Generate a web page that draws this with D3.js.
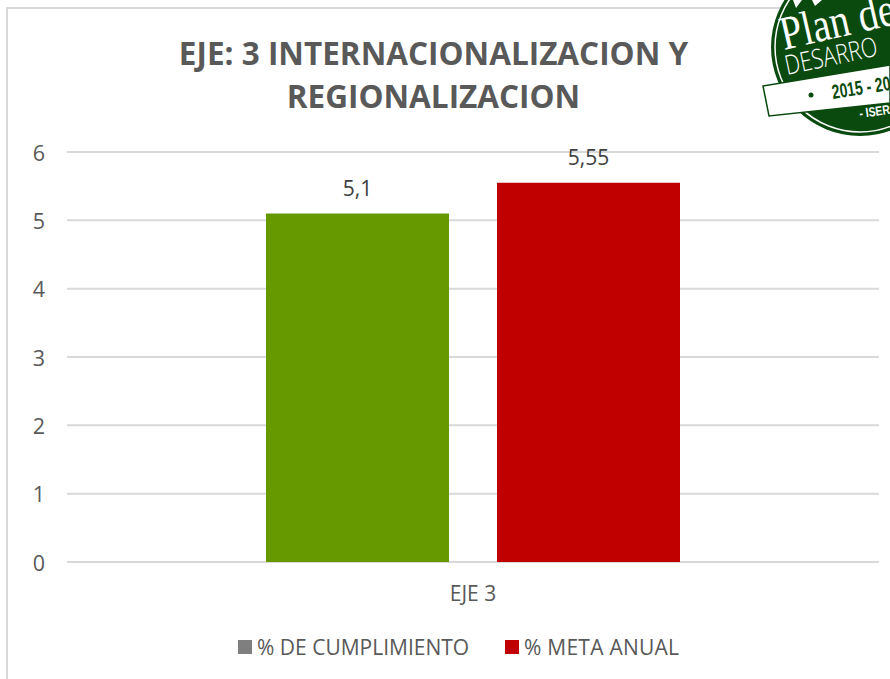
<!DOCTYPE html>
<html><head><meta charset="utf-8">
<script src="https://cdnjs.cloudflare.com/ajax/libs/d3/7.8.5/d3.min.js"></script>
<style>html,body{margin:0;padding:0;background:#fff}svg{display:block}text{font-family:"Open Sans",sans-serif}</style>
</head><body><svg id="c" width="890" height="679"></svg>
<script>
const categories = ["EJE 3"];
const seriesNames = ["% DE CUMPLIMIENTO", "% META ANUAL"];
const barValues = [5.1, 5.55];
const valueLabels = ["5,1", "5,55"];
const barColors = ["#669900", "#C00000"];
const legendColors = ["#7F7F7F", "#C00000"];
const yTicks = [0, 1, 2, 3, 4, 5, 6];
const titleLines = ["EJE: 3 INTERNACIONALIZACION Y", "REGIONALIZACION"];

const svg = d3.select("#c");
const W = 890, H = 679;
const L = 67, R = 879, T = 152, B = 562;
svg.append("rect").attr("x",7).attr("y",8).attr("width",W).attr("height",H).attr("fill","#fff").attr("stroke","#D9D9D9").attr("stroke-width",2);

const y = d3.scaleLinear().domain([0,6]).range([B,T]);
const x0 = d3.scaleBand().domain(categories).range([L,R]);
const x1 = d3.scaleBand().domain(seriesNames).range([266,680]).paddingInner(48/231);

svg.append("g").selectAll("line").data(yTicks).join("line")
  .attr("x1",L).attr("x2",R).attr("y1",d=>y(d)).attr("y2",d=>y(d))
  .attr("stroke","#D9D9D9").attr("stroke-width",2);
svg.append("g").selectAll("text").data(yTicks).join("text")
  .attr("x",45).attr("y",d=>y(d)+8.5).attr("text-anchor","end")
  .attr("font-size",21.5).attr("fill","#595959").text(d=>d);

svg.append("g").selectAll("rect").data(barValues).join("rect")
  .attr("x",(d,i)=>x1(seriesNames[i])).attr("width",x1.bandwidth())
  .attr("y",d=>y(d)).attr("height",d=>B-y(d)).attr("fill",(d,i)=>barColors[i]);
svg.append("g").selectAll("text").data(barValues).join("text")
  .attr("x",(d,i)=>x1(seriesNames[i])+x1.bandwidth()/2).attr("y",d=>y(d)-18)
  .attr("text-anchor","middle").attr("font-size",21).attr("fill","#404040")
  .text((d,i)=>valueLabels[i]);

svg.append("text").attr("x",x0(categories[0])+x0.bandwidth()/2).attr("y",601)
  .attr("text-anchor","middle").attr("font-size",21).attr("fill","#595959").text(categories[0]);

svg.append("g").selectAll("text").data(titleLines).join("text")
  .attr("x",433.5).attr("y",(d,i)=>65+i*43).attr("text-anchor","middle")
  .attr("font-size",31.5).attr("font-weight",700).attr("fill","#595959").text(d=>d);

const legendX = [238,505];
const legendSpacing = [0,0.25];
const lg = svg.append("g").selectAll("g").data(seriesNames).join("g");
lg.append("rect").attr("x",(d,i)=>legendX[i]).attr("y",640).attr("width",14).attr("height",14).attr("fill",(d,i)=>legendColors[i]);
lg.append("text").attr("x",(d,i)=>legendX[i]+19).attr("y",654.5).attr("font-size",21).attr("fill","#595959")
  .attr("letter-spacing",(d,i)=>legendSpacing[i]).text(d=>d);

// logo stamp (cut by the window, as in the reference)
const green = "#0B4A0F";
const logo = svg.append("g");
logo.append("circle").attr("cx",860).attr("cy",47).attr("r",89).attr("fill",green);
logo.append("circle").attr("cx",860).attr("cy",47).attr("r",85).attr("fill","none").attr("stroke","#fff").attr("stroke-width",1.5);
logo.append("polygon").attr("points","793,0 802,0 796,8").attr("fill","#fff");
logo.append("polygon").attr("points","812,0 822,0 815,6").attr("fill","#fff");
logo.append("text").attr("transform","translate(784,50) rotate(-13) scale(0.82,1)")
  .style("font-family","Liberation Serif").attr("font-size",48).attr("fill","#fff").text("Plan de");
logo.append("text").attr("transform","translate(787,75) rotate(-12) scale(0.8,1)")
  .style("font-family","Open Sans").attr("font-weight",300).attr("font-size",27).attr("fill","#fff").text("DESARRO");
logo.append("polygon").attr("points","763,86 890,65 890,103 769,116").attr("fill","#fff").attr("stroke",green).attr("stroke-width",1.5);
logo.append("circle").attr("cx",811).attr("cy",95).attr("r",2.5).attr("fill",green);
logo.append("text").attr("transform","translate(833,99) rotate(-9) scale(0.7,1)")
  .style("font-family","Liberation Sans").attr("font-size",20).attr("font-weight",700).attr("fill",green).text("2015 - 20");
logo.append("text").attr("transform","translate(860,118) rotate(-8) scale(0.8,1)")
  .style("font-family","Liberation Sans").attr("font-size",13).attr("font-weight",700).attr("fill","#fff").text("- ISER");
</script></body></html>
